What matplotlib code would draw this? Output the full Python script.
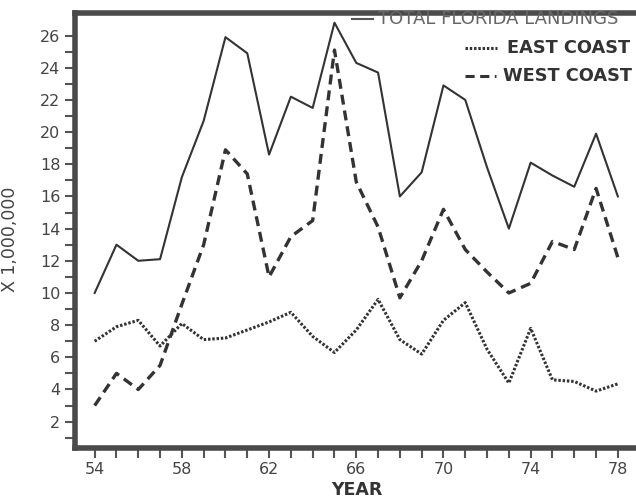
import matplotlib.pyplot as plt
from matplotlib.lines import Line2D

years = list(range(54, 79))
total = [10.0, 13.0, 12.0, 12.1, 17.2, 20.7, 25.9, 24.9, 18.6, 22.2, 21.5, 26.8, 24.3,
         23.7, 16.0, 17.5, 22.9, 22.0, 17.8, 14.0, 18.1, 17.3, 16.6, 19.9, 16.0]
east = [7.0, 7.9, 8.3, 6.7, 8.1, 7.1, 7.2, 7.7, 8.2, 8.8, 7.3, 6.3, 7.7,
        9.6, 7.1, 6.2, 8.3, 9.4, 6.5, 4.4, 7.8, 4.6, 4.5, 3.9, 4.35]
west = [3.0, 5.0, 4.0, 5.5, 9.3, 13.0, 18.9, 17.4, 11.0, 13.5, 14.5, 25.1, 16.9,
        14.1, 9.7, 12.0, 15.2, 12.7, 11.3, 10.0, 10.6, 13.2, 12.7, 16.5, 12.2]

x_major = [54, 58, 62, 66, 70, 74, 78]
y_major = list(range(2, 27, 2))

ink = '#333333'
grey = '#555555'

plt.rcParams['font.family'] = ['DejaVu Sans']

fig = plt.figure(figsize=(6.36, 5.01), dpi=100)
ax = fig.add_axes([0.118, 0.106, 0.95, 0.868])

ax.plot(years, total, color=ink, lw=1.5)
ax.plot(years, east, color=ink, lw=2.2, linestyle=(0, (0.8, 0.6)))
ax.plot(years, west, color=ink, lw=2.4, linestyle=(0, (3, 1.8)))

ax.set_xlim(53.1, 53.1 + 0.95 * 636 / 21.8)
ax.set_ylim(0.37, 27.4)

ax.set_xticks(x_major)
ax.set_xticks(years, minor=True)
ax.set_yticks(y_major)
ax.set_yticks(list(range(1, 27, 2)), minor=True)
ax.tick_params(which='both', direction='out', colors=grey, width=1.5, length=7,
               labelsize=11.5, labelcolor='#444444')

for s in ['left', 'top', 'bottom']:
    ax.spines[s].set_linewidth(4)
    ax.spines[s].set_color('#4a4a4a')
ax.spines['right'].set_visible(False)

ax.set_xlabel('YEAR', fontsize=12.5, fontweight='bold', color=ink)
ax.xaxis.set_label_coords((357 - 75) / (0.95 * 636), -0.075)
ax.set_ylabel('X 1,000,000', fontsize=12.5, color='#444444')
ax.yaxis.set_label_coords(-(75 - 19) / (0.95 * 636), (454 - 245) / 435)

# legend drawn by hand in the upper right corner
fig.add_artist(Line2D([352 / 636, 373 / 636], [1 - 19 / 501, 1 - 19 / 501],
                      color=grey, lw=1.5))
fig.text(378 / 636, 1 - 19 / 501, 'TOTAL FLORIDA LANDINGS', fontsize=13,
         color='#666666', va='center', ha='left')
fig.add_artist(Line2D([465 / 636, 497 / 636], [1 - 48 / 501, 1 - 48 / 501],
                      color=ink, lw=2.2, linestyle=(0, (0.8, 0.6))))
fig.text(507 / 636, 1 - 48 / 501, 'EAST COAST', fontsize=12.8, fontweight='bold',
         color=ink, va='center', ha='left')
fig.add_artist(Line2D([465 / 636, 496 / 636], [1 - 76 / 501, 1 - 76 / 501],
                      color=ink, lw=2.2, linestyle=(0, (3, 1.8))))
fig.text(503 / 636, 1 - 76 / 501, 'WEST COAST', fontsize=12.8, fontweight='bold',
         color=ink, va='center', ha='left')

fig.savefig('out.png', dpi=100)
